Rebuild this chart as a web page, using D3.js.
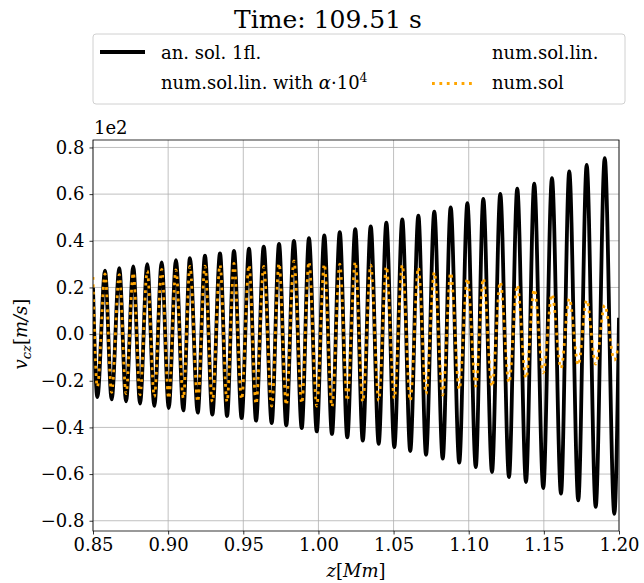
<!DOCTYPE html>
<html>
<head>
<meta charset="utf-8">
<script src="https://cdn.jsdelivr.net/npm/d3@7"></script>
<style>
  body { margin: 0; background: #fff; }
  svg text { font-family: "DejaVu Serif", serif; fill: #000; }
</style>
</head>
<body>
<div id="chart"></div>
<script>
// posiciones z [Mm] de los extremos, con los bordes
const zPoints = [0.85,
  0.8529, 0.8580, 0.8624, 0.8675, 0.8720, 0.8768, 0.8813, 0.8861, 0.8908, 0.8957,
  0.9004, 0.9052, 0.9101, 0.9145, 0.9197, 0.9245, 0.9294, 0.9345, 0.9392, 0.9438,
  0.9489, 0.9538, 0.9585, 0.9636, 0.9689, 0.9738, 0.9786, 0.9837, 0.9889, 0.9937,
  0.9989, 1.0039, 1.0090, 1.0142, 1.0192, 1.0245, 1.0295, 1.0348, 1.0401, 1.0452,
  1.0505, 1.0558, 1.0611, 1.0665, 1.0716, 1.0771, 1.0827, 1.0880, 1.0937, 1.0991,
  1.1047, 1.1097, 1.1155, 1.1210, 1.1268, 1.1323, 1.1381, 1.1436, 1.1496, 1.1554,
  1.1614, 1.1669, 1.1729, 1.1785, 1.1845, 1.1905, 1.1969,
  1.20];

// an. sol. 1fl. (x1e2)
const anSol = [0.20,
  -0.270, 0.272, -0.280, 0.283, -0.288, 0.290, -0.298, 0.300, -0.308, 0.307,
  -0.317, 0.317, -0.327, 0.326, -0.337, 0.336, -0.345, 0.346, -0.351, 0.357,
  -0.360, 0.366, -0.371, 0.375, -0.381, 0.387, -0.391, 0.400, -0.403, 0.411,
  -0.417, 0.423, -0.428, 0.437, -0.443, 0.450, -0.457, 0.462, -0.470, 0.478,
  -0.484, 0.492, -0.501, 0.508, -0.517, 0.525, -0.534, 0.543, -0.551, 0.561,
  -0.570, 0.580, -0.591, 0.601, -0.613, 0.623, -0.634, 0.645, -0.660, 0.668,
  -0.684, 0.697, -0.713, 0.725, -0.741, 0.754, -0.770,
  0.07];

// num.sol (x1e2)
const numSol = [0.245,
  -0.226, 0.258, -0.250, 0.255, -0.255, 0.263, -0.260, 0.270, -0.268, 0.277,
  -0.276, 0.275, -0.275, 0.290, -0.290, 0.291, -0.290, 0.296, -0.290, 0.303,
  -0.280, 0.296, -0.300, 0.290, -0.309, 0.303, -0.304, 0.314, -0.297, 0.310,
  -0.309, 0.300, -0.311, 0.300, -0.285, 0.310, -0.290, 0.296, -0.285, 0.290,
  -0.275, 0.296, -0.285, 0.285, -0.256, 0.265, -0.261, 0.263, -0.237, 0.239,
  -0.223, 0.239, -0.226, 0.224, -0.209, 0.210, -0.190, 0.192, -0.166, 0.171,
  -0.147, 0.153, -0.133, 0.146, -0.129, 0.124, -0.111,
  -0.04];

const xTicks = [0.85, 0.90, 0.95, 1.00, 1.05, 1.10, 1.15, 1.20];
const yTicks = [-0.8, -0.6, -0.4, -0.2, 0.0, 0.2, 0.4, 0.6, 0.8];

const W = 644, H = 583;
const FS = 18;
const frame = { left: 93, right: 619, top: 140, bottom: 531 };

const svg = d3.select("#chart").append("svg")
  .attr("width", W).attr("height", H);

const x = d3.scaleLinear().domain([0.85, 1.20]).range([frame.left, frame.right]);
const y = d3.scaleLinear().domain([-0.844, 0.832]).range([frame.bottom, frame.top]);

// Rejilla
const gGrid = svg.append("g");
gGrid.selectAll("line.gx").data(xTicks).enter().append("line")
  .attr("x1", d => x(d)).attr("x2", d => x(d))
  .attr("y1", frame.top).attr("y2", frame.bottom)
  .attr("stroke", "#b0b0b0").attr("stroke-width", 0.8);
gGrid.selectAll("line.gy").data(yTicks).enter().append("line")
  .attr("x1", frame.left).attr("x2", frame.right)
  .attr("y1", d => y(d)).attr("y2", d => y(d))
  .attr("stroke", "#b0b0b0").attr("stroke-width", 0.8);

// Curvas
svg.append("clipPath").attr("id", "clip").append("rect")
  .attr("x", frame.left).attr("y", frame.top)
  .attr("width", frame.right - frame.left).attr("height", frame.bottom - frame.top);

const line = d3.line()
  .x(d => x(d[0])).y(d => y(d[1]))
  .curve(d3.curveMonotoneX);

const gLines = svg.append("g").attr("clip-path", "url(#clip)");
gLines.append("path")
  .attr("d", line(zPoints.map((z, i) => [z, anSol[i]])))
  .attr("fill", "none").attr("stroke", "#000").attr("stroke-width", 3.8);
gLines.append("path")
  .attr("d", line(zPoints.map((z, i) => [z, numSol[i]])))
  .attr("fill", "none").attr("stroke", "orange").attr("stroke-width", 2.8)
  .attr("stroke-dasharray", "2.8,4.6");

// Ejes
const xAxis = svg.append("g")
  .attr("transform", `translate(0,${frame.bottom})`)
  .call(d3.axisBottom(x).tickValues(xTicks).tickFormat(d3.format(".2f")).tickSize(3.5).tickPadding(4));
const yAxis = svg.append("g")
  .attr("transform", `translate(${frame.left},0)`)
  .call(d3.axisLeft(y).tickValues(yTicks).tickFormat(d => d3.format(".1f")(d).replace("-", "\u2212")).tickSize(3.5).tickPadding(5));
[xAxis, yAxis].forEach(g => {
  g.select(".domain").remove();
  g.selectAll(".tick line").attr("stroke", "#000").attr("stroke-width", 0.8);
  g.selectAll(".tick text").attr("font-size", FS).attr("font-family", "DejaVu Serif");
});

svg.append("rect")
  .attr("x", frame.left).attr("y", frame.top)
  .attr("width", frame.right - frame.left).attr("height", frame.bottom - frame.top)
  .attr("fill", "none").attr("stroke", "#000").attr("stroke-width", 0.8);

// Textos
svg.append("text").attr("x", 94).attr("y", 134).attr("font-size", FS).text("1e2");

svg.append("text").attr("x", 328).attr("y", 28).attr("text-anchor", "middle")
  .attr("font-size", 25).text("Time: 109.51 s");

const xl = svg.append("text").attr("x", (frame.left + frame.right) / 2).attr("y", 577)
  .attr("text-anchor", "middle").attr("font-size", FS);
xl.append("tspan").attr("font-style", "italic").text("z");
xl.append("tspan").text("[");
xl.append("tspan").attr("font-style", "italic").text("Mm");
xl.append("tspan").text("]");

const yl = svg.append("text").attr("transform", "translate(27,334) rotate(-90)")
  .attr("text-anchor", "middle").attr("font-size", FS);
yl.append("tspan").attr("font-style", "italic").text("v");
yl.append("tspan").attr("font-style", "italic").attr("font-size", 13).attr("dy", 4).text("cz");
yl.append("tspan").attr("dy", -4).text("[");
yl.append("tspan").attr("font-style", "italic").text("m/s");
yl.append("tspan").text("]");

// Leyenda
const gLeg = svg.append("g");
gLeg.append("rect")
  .attr("x", 93).attr("y", 34).attr("width", 532).attr("height", 70)
  .attr("rx", 3).attr("fill", "#fff").attr("stroke", "#d0d0d0").attr("stroke-width", 1);
gLeg.append("line").attr("x1", 100).attr("x2", 145).attr("y1", 52).attr("y2", 52)
  .attr("stroke", "#000").attr("stroke-width", 3.8);
gLeg.append("line").attr("x1", 432).attr("x2", 474).attr("y1", 83.5).attr("y2", 83.5)
  .attr("stroke", "orange").attr("stroke-width", 2.8).attr("stroke-dasharray", "2.8,4.6");
gLeg.append("text").attr("x", 161).attr("y", 59).attr("font-size", FS).text("an. sol. 1fl.");
gLeg.append("text").attr("x", 492).attr("y", 59).attr("font-size", FS).text("num.sol.lin.");
const lt = gLeg.append("text").attr("x", 161).attr("y", 89).attr("font-size", FS);
lt.append("tspan").text("num.sol.lin. with ");
lt.append("tspan").attr("font-style", "italic").text("\u03b1");
lt.append("tspan").text("\u00b710");
lt.append("tspan").attr("font-size", 12.5).attr("dy", -7).text("4");
gLeg.append("text").attr("x", 492).attr("y", 89).attr("font-size", FS).text("num.sol");
</script>
</body>
</html>
